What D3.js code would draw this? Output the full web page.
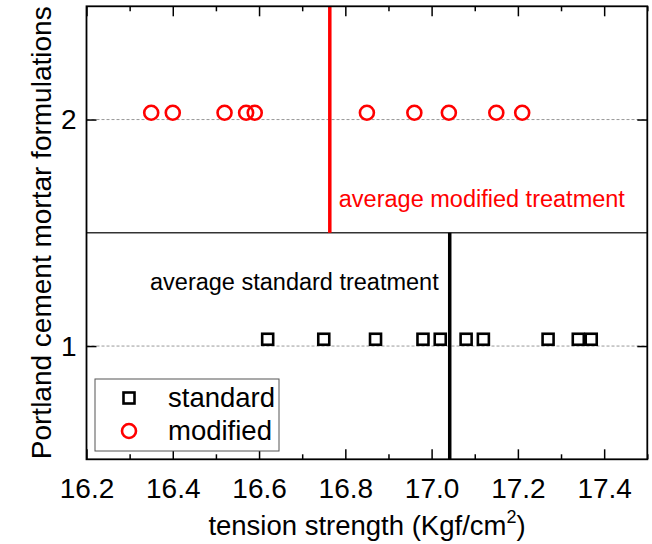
<!DOCTYPE html>
<html><head><meta charset="utf-8">
<script src="https://cdn.jsdelivr.net/npm/d3@7"></script>
<style>html,body{margin:0;padding:0;background:#fff;}svg{display:block;font-family:"Liberation Sans",Arial,sans-serif;}</style>
</head><body>
<script>
// ---- data ----
const modifiedValues = [16.35, 16.40, 16.52, 16.57, 16.59, 16.85, 16.96, 17.04, 17.15, 17.21];
const standardValues = [16.62, 16.75, 16.87, 16.98, 17.02, 17.08, 17.12, 17.27, 17.34, 17.37];
const groupLevels = [1, 2];            // category lines (standard = 1, modified = 2)
const markerLevels = [1.03, 2.03];     // marker rows as drawn
const xMajorTicks = [16.2, 16.4, 16.6, 16.8, 17.0, 17.2, 17.4];
const xMinorTicks = [16.3, 16.5, 16.7, 16.9, 17.1, 17.3, 17.5];
const yTicks = [1, 2];
const seriesNames = ["standard", "modified"];
const annotationTexts = ["average standard treatment", "average modified treatment"];

const W = 652, H = 544;
const L = 86.5, R = 647.3, T = 6.3, B = 459.3;
const svg = d3.select("body").append("svg").attr("width", W).attr("height", H);
const x = d3.scaleLinear().domain([16.2, 17.5]).range([L, R]);
const y = d3.scaleLinear().domain([0.5, 2.5]).range([B, T]);
const red = "#ff0000";

// dashed category lines
svg.selectAll("line.grid").data(groupLevels).join("line")
  .attr("x1", L).attr("x2", R).attr("y1", d => y(d)).attr("y2", d => y(d))
  .attr("stroke", "#999").attr("stroke-width", 1).attr("stroke-dasharray", "3,2");

// separator at 1.5
svg.append("line").attr("x1", L).attr("x2", R).attr("y1", y(1.5)).attr("y2", y(1.5))
  .attr("stroke", "#333").attr("stroke-width", 1.5);

// averages
const avgStd = d3.mean(standardValues), avgMod = d3.mean(modifiedValues);
svg.append("line").attr("x1", x(avgMod)).attr("x2", x(avgMod)).attr("y1", y(2.5)).attr("y2", y(1.5))
  .attr("stroke", red).attr("stroke-width", 3.5);
svg.append("line").attr("x1", x(avgStd)).attr("x2", x(avgStd)).attr("y1", y(1.5)).attr("y2", y(0.5))
  .attr("stroke", "#000").attr("stroke-width", 3.5);

svg.append("text").attr("x", x(avgMod) + 9).attr("y", 207).attr("fill", red)
  .attr("font-size", 23.5).text(annotationTexts[1]);
svg.append("text").attr("x", x(avgStd) - 11).attr("y", 290).attr("fill", "#000")
  .attr("text-anchor", "end").attr("font-size", 23.5).text(annotationTexts[0]);

// markers
const sq = 11;
svg.selectAll("rect.std").data(standardValues).join("rect")
  .attr("x", d => x(d) - sq / 2).attr("y", y(markerLevels[0]) - sq / 2)
  .attr("width", sq).attr("height", sq)
  .attr("fill", "none").attr("stroke", "#000").attr("stroke-width", 2.6);
svg.selectAll("circle.mod").data(modifiedValues).join("circle")
  .attr("cx", d => x(d)).attr("cy", y(markerLevels[1])).attr("r", 7)
  .attr("fill", "none").attr("stroke", red).attr("stroke-width", 2.6);

// axes
const fmt = d3.format(".1f");
const gB = svg.append("g").attr("transform", `translate(0,${B})`)
  .call(d3.axisBottom(x).tickValues(xMajorTicks).tickSize(-10).tickPadding(19).tickFormat(fmt));
const gBm = svg.append("g").attr("transform", `translate(0,${B})`)
  .call(d3.axisBottom(x).tickValues(xMinorTicks).tickSize(-5).tickFormat(""));
const gT = svg.append("g").attr("transform", `translate(0,${T})`)
  .call(d3.axisTop(x).tickValues(xMajorTicks).tickSize(-10).tickFormat(""));
const gTm = svg.append("g").attr("transform", `translate(0,${T})`)
  .call(d3.axisTop(x).tickValues(xMinorTicks).tickSize(-5).tickFormat(""));
const gL = svg.append("g").attr("transform", `translate(${L},0)`)
  .call(d3.axisLeft(y).tickValues(yTicks).tickSize(-10).tickPadding(10).tickFormat(d3.format("d")));
const gR = svg.append("g").attr("transform", `translate(${R},0)`)
  .call(d3.axisRight(y).tickValues(yTicks).tickSize(-10).tickFormat(""));
[gB, gBm, gT, gTm, gL, gR].forEach(g => {
  g.select(".domain").remove();
  g.selectAll(".tick line").attr("stroke", "#000").attr("stroke-width", 1.5);
  g.selectAll(".tick text").attr("fill", "#000").attr("font-size", 28)
    .attr("font-family", "Liberation Sans, Arial, sans-serif");
});

// frame
svg.append("rect").attr("x", L).attr("y", T).attr("width", R - L).attr("height", B - T)
  .attr("fill", "none").attr("stroke", "#000").attr("stroke-width", 1.8);

// axis titles
const xt = svg.append("text").attr("x", 367).attr("y", 535).attr("text-anchor", "middle")
  .attr("font-size", 27.5).attr("fill", "#000");
xt.append("tspan").text("tension strength (Kgf/cm");
xt.append("tspan").attr("font-size", 18).attr("dy", -12).text("2");
xt.append("tspan").attr("dy", 12).text(")");
svg.append("text").attr("transform", `translate(51,${(T + B) / 2}) rotate(-90)`)
  .attr("text-anchor", "middle").attr("font-size", 28).attr("fill", "#000")
  .text("Portland cement mortar formulations");

// legend
const lg = svg.append("g");
lg.append("rect").attr("x", 95).attr("y", 379).attr("width", 184).attr("height", 72)
  .attr("fill", "#fff").attr("stroke", "#555").attr("stroke-width", 1);
lg.append("rect").attr("x", 129 - sq / 2).attr("y", 398 - sq / 2).attr("width", sq).attr("height", sq)
  .attr("fill", "none").attr("stroke", "#000").attr("stroke-width", 2.6);
lg.append("circle").attr("cx", 129).attr("cy", 431).attr("r", 7)
  .attr("fill", "none").attr("stroke", red).attr("stroke-width", 2.6);
lg.selectAll("text").data(seriesNames).join("text")
  .attr("x", 168).attr("y", (d, i) => 398 + i * 33 + 9).attr("font-size", 27.5).attr("fill", "#000").text(d => d);
</script>
</body></html>
